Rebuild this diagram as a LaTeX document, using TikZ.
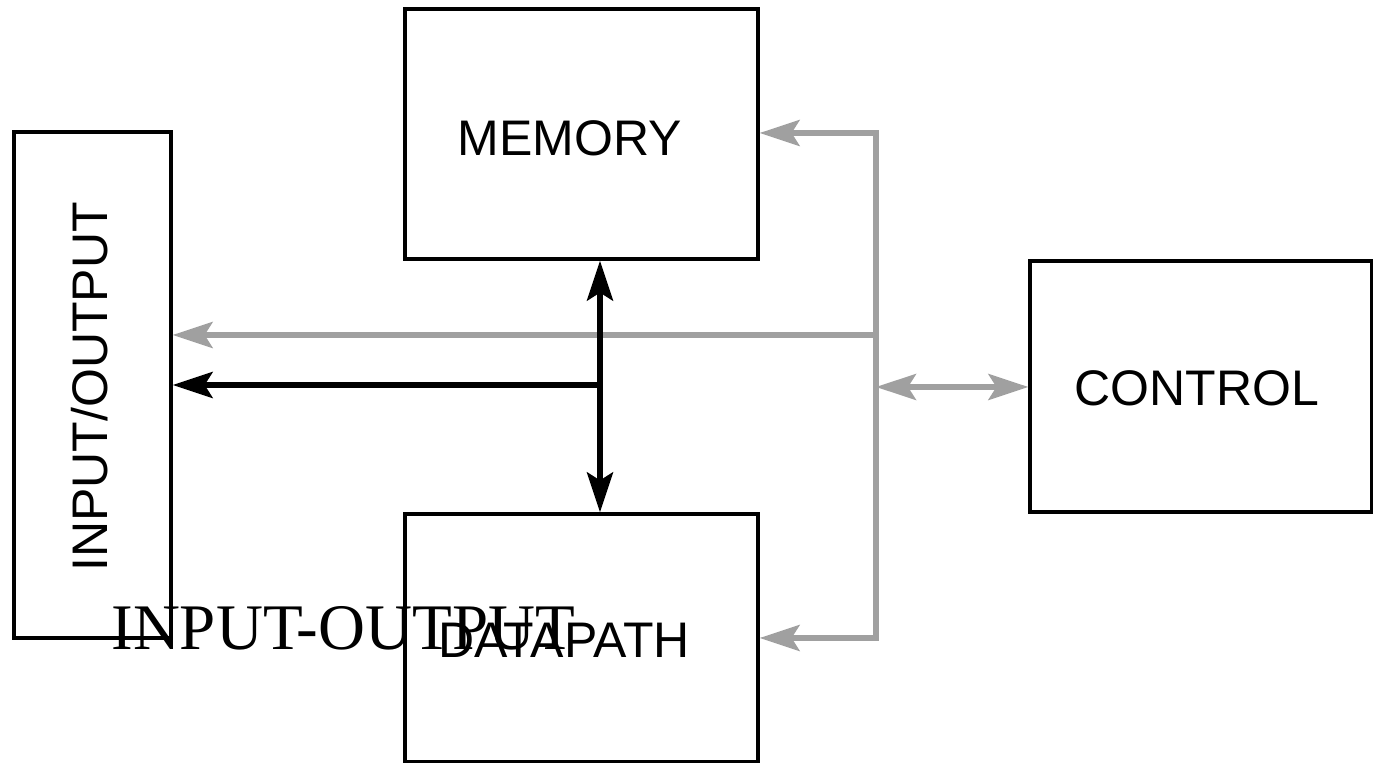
\documentclass[tikz,border=0pt]{standalone}
\usepackage{fontspec}
\setmainfont{Liberation Sans}
\newfontfamily\serifface{Liberation Serif}
\usetikzlibrary{arrows.meta}
\definecolor{busgray}{RGB}{160,160,160}
\tikzset{
  unit/.style={draw=black, line width=1.6pt, inner sep=0pt, fill=none},
  lbl/.style={font=\fontsize{25}{30}\selectfont, inner sep=0pt, anchor=base},
  ctlline/.style={draw=busgray, line width=2.6pt},
  dataline/.style={draw=black, line width=2.8pt},
  head/.tip={Stealth[length=20pt, width=13pt, inset=4pt]},
  tip/.style={-head},
  tips/.style={head-head}
}
\begin{document}
\begin{tikzpicture}[x=0.5pt, y=-0.5pt]
\useasboundingbox (0,0) rectangle (1373,763);
% functional units
\node[unit, minimum width=176.5pt, minimum height=125pt] (mem) at (581.5,134) {};
\node[unit, minimum width=78.5pt, minimum height=253pt] (io) at (92.5,385) {};
\node[unit, minimum width=171pt, minimum height=125.5pt] (ctl) at (1201,386.5) {};
\node[unit, minimum width=176.5pt, minimum height=124pt] (dp) at (581.5,638) {};
% labels
\node[lbl] (memlbl) at (570,156) {MEMORY};
\node[lbl] (ctllbl) at (1197,406) {CONTROL};
\node[lbl] (dplbl) at (564,658) {DATAPATH};
\node[lbl, rotate=90] (iolbl) at (107,387) {INPUT/OUTPUT};
\node[font=\serifface\fontsize{32.5}{38}\selectfont, inner sep=0pt, anchor=base west] (iocap) at (111,650) {INPUT-OUTPUT};
% control bus
\coordinate (bt) at (876,133);
\coordinate (bb) at (876,638);
\coordinate (bio) at (876,335);
\coordinate (bctl) at (876,387);
\draw[ctlline, tips] (bt -| mem.east) -- (bt) -- (bb) -- (bb -| dp.east);
\draw[ctlline, tip] (bio) -- (bio -| io.east);
\draw[ctlline, tips] (bctl) -- (bctl -| ctl.west);
% data bus
\coordinate (j) at (600,385);
\draw[dataline, tips] (mem.south -| j) -- (dp.north -| j);
\draw[dataline, tip] (j) -- (j -| io.east);
\end{tikzpicture}
\end{document}
